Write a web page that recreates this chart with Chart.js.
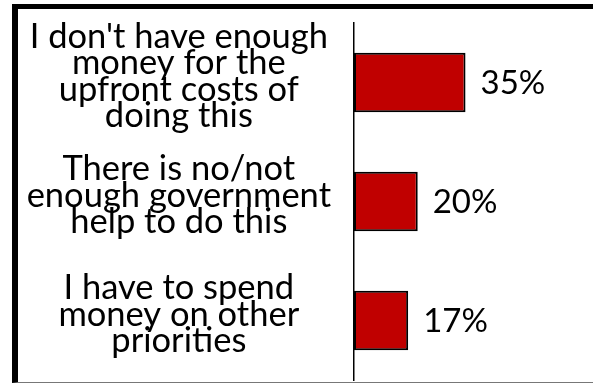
<!DOCTYPE html>
<html>
<head>
<meta charset="utf-8">
<script src="https://cdn.jsdelivr.net/npm/chart.js@4.4.1/dist/chart.umd.min.js"></script>
<style>
  html, body { margin: 0; padding: 0; background: #fff; }
  #wrap { position: relative; width: 593px; height: 384px; overflow: hidden; }
  #frame {
    position: absolute; left: 12px; top: 4px; width: 700px; height: 373px;
    border-top: 5px solid #000; border-left: 6px solid #000; border-bottom: 1px solid #777;
    pointer-events: none;
  }
</style>
</head>
<body>
<div id="wrap">
  <canvas id="barChart" width="593" height="384"></canvas>
  <div id="frame"></div>
</div>
<script>
// 데이터
const categories = [
  ["I don't have enough", "money for the", "upfront costs of", "doing this"],
  ["There is no/not", "enough government", "help to do this"],
  ["I have to spend", "money on other", "priorities"]
];
const percentValues = [35, 20, 17];
const valueLabels = ["35%", "20%", "17%"];

const labelFont = "Lato";

// 막대 끝에 값 표시
const valueLabelPlugin = {
  id: 'valueLabels',
  afterDatasetsDraw(chart) {
    const ctx = chart.ctx;
    const meta = chart.getDatasetMeta(0);
    ctx.save();
    ctx.font = `33px ${labelFont}`;
    ctx.fillStyle = '#000';
    ctx.textAlign = 'left';
    ctx.textBaseline = 'middle';
    meta.data.forEach((bar, i) => {
      ctx.fillText(valueLabels[i], bar.x + 15, bar.y + 1);
    });
    ctx.restore();
  }
};

new Chart(document.getElementById('barChart'), {
  type: 'bar',
  data: {
    labels: categories,
    datasets: [{
      data: percentValues,
      backgroundColor: '#C00000',
      borderColor: '#000',
      borderWidth: 2,
      borderSkipped: false,
      barPercentage: 0.5,
      categoryPercentage: 1
    }]
  },
  options: {
    indexAxis: 'y',
    responsive: false,
    animation: false,
    layout: { padding: { top: 23, bottom: 4, left: 0, right: 0 } },
    plugins: {
      legend: { display: false },
      tooltip: { enabled: false }
    },
    scales: {
      x: { display: false, min: 0, max: 75 },
      y: {
        grid: { display: false },
        border: { display: true, color: '#000', width: 1.5 },
        afterFit(scale) {
          scale.width = 354;
          scale.paddingTop = 0;
          scale.paddingBottom = 0;
        },
        ticks: {
          crossAlign: 'center',
          padding: 15,
          labelOffset: -6,
          color: '#000',
          font: { family: labelFont, size: 34.5, lineHeight: '26.5px' }
        }
      }
    }
  },
  plugins: [valueLabelPlugin]
});
</script>
</body>
</html>
